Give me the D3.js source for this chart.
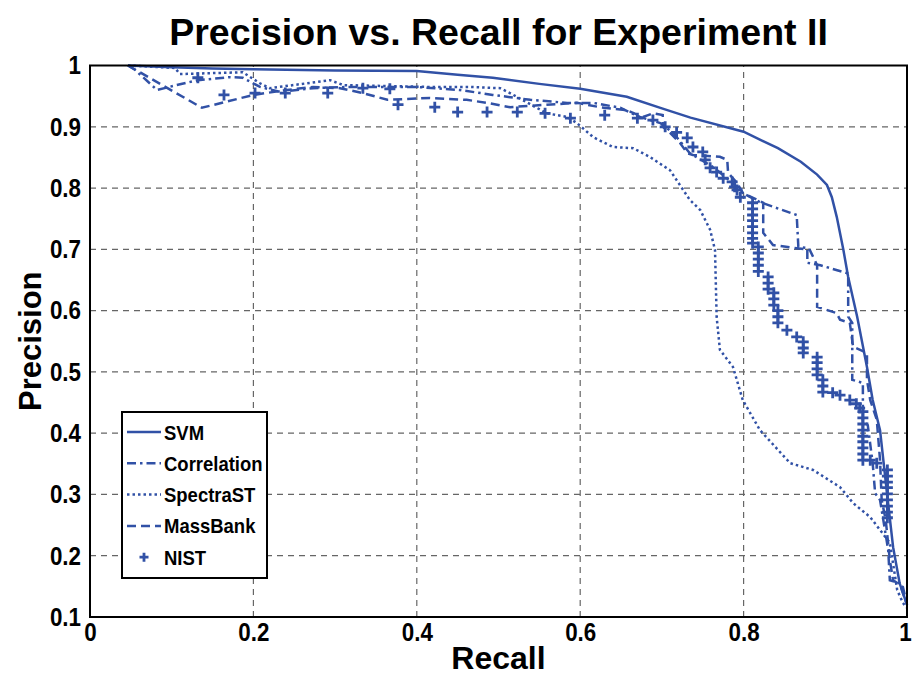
<!DOCTYPE html>
<html>
<head>
<meta charset="utf-8">
<script src="https://cdn.jsdelivr.net/npm/d3@7"></script>
<style>
  body { margin: 0; background: #fff; }
  svg { display: block; }
</style>
</head>
<body>
<div id="chart"></div>
<script>
// [recall, precision] pairs
const svmCurve = [
  [0.0465, 1], [0.1, 0.997], [0.15, 0.995], [0.2, 0.994], [0.3, 0.992], [0.4, 0.991],
  [0.45, 0.985], [0.493, 0.98], [0.55, 0.97], [0.6, 0.962], [0.657, 0.949], [0.7, 0.93],
  [0.735, 0.915], [0.8, 0.892], [0.842, 0.865], [0.87, 0.843], [0.89, 0.822], [0.902, 0.805],
  [0.908, 0.785], [0.914, 0.753], [0.922, 0.70], [0.928, 0.655], [0.939, 0.59], [0.951, 0.508],
  [0.958, 0.454], [0.967, 0.405], [0.976, 0.296], [0.983, 0.214], [0.991, 0.155], [1, 0.12]
];

const correlationCurve = [
  [0.0465, 1], [0.055, 0.993], [0.082, 0.96], [0.106, 0.968], [0.132, 0.976], [0.171, 0.981],
  [0.187, 0.98], [0.208, 0.965], [0.233, 0.957], [0.273, 0.963], [0.315, 0.965], [0.4, 0.965],
  [0.453, 0.96], [0.493, 0.952], [0.539, 0.944], [0.584, 0.939], [0.616, 0.939], [0.649, 0.931],
  [0.673, 0.916], [0.698, 0.906], [0.714, 0.89], [0.734, 0.857], [0.763, 0.834], [0.787, 0.808],
  [0.799, 0.792], [0.82, 0.777], [0.865, 0.756], [0.867, 0.704], [0.878, 0.702], [0.878, 0.678],
  [0.894, 0.674], [0.927, 0.661], [0.928, 0.655], [0.928, 0.59], [0.933, 0.58], [0.933, 0.487],
  [0.946, 0.482], [0.946, 0.422], [0.952, 0.413], [0.958, 0.351], [0.961, 0.302], [0.967, 0.291],
  [0.973, 0.242], [0.977, 0.209], [0.979, 0.16], [0.991, 0.155], [1, 0.12]
];

const spectraCurve = [
  [0.0465, 1], [0.104, 0.996], [0.11, 0.986], [0.187, 0.989], [0.208, 0.971], [0.22, 0.963],
  [0.294, 0.976], [0.31, 0.968], [0.416, 0.965], [0.465, 0.965], [0.502, 0.963], [0.514, 0.955],
  [0.559, 0.922], [0.584, 0.916], [0.596, 0.906], [0.616, 0.883], [0.64, 0.867], [0.665, 0.865],
  [0.685, 0.851], [0.71, 0.829], [0.734, 0.781], [0.747, 0.764], [0.759, 0.732], [0.765, 0.699],
  [0.767, 0.59], [0.771, 0.536], [0.787, 0.508], [0.799, 0.454], [0.82, 0.405], [0.857, 0.351],
  [0.885, 0.34], [0.918, 0.312], [0.934, 0.286], [0.955, 0.263], [0.967, 0.242], [0.979, 0.221],
  [0.988, 0.144], [0.995, 0.123], [1, 0.115]
];

const massbankCurve = [
  [0.0465, 1], [0.137, 0.931], [0.2, 0.952], [0.241, 0.96], [0.273, 0.965], [0.306, 0.963],
  [0.334, 0.955], [0.364, 0.944], [0.416, 0.947], [0.461, 0.944], [0.486, 0.939], [0.514, 0.932],
  [0.559, 0.936], [0.596, 0.939], [0.624, 0.932], [0.657, 0.927], [0.677, 0.916], [0.689, 0.922],
  [0.701, 0.919], [0.701, 0.9], [0.71, 0.89], [0.722, 0.874], [0.731, 0.857], [0.738, 0.854],
  [0.771, 0.851], [0.78, 0.846], [0.781, 0.825], [0.792, 0.808], [0.799, 0.792], [0.824, 0.776],
  [0.824, 0.727], [0.836, 0.707], [0.881, 0.699], [0.89, 0.674], [0.89, 0.606], [0.914, 0.596],
  [0.918, 0.585], [0.93, 0.58], [0.934, 0.541], [0.951, 0.531], [0.951, 0.487], [0.955, 0.454],
  [0.963, 0.422], [0.967, 0.356], [0.969, 0.291], [0.974, 0.258], [0.979, 0.193], [0.983, 0.16],
  [0.995, 0.149], [1, 0.12]
];

const nistPoints = [
  [0.132, 0.98], [0.164, 0.952], [0.202, 0.955], [0.239, 0.955], [0.291, 0.955], [0.334, 0.963],
  [0.367, 0.962], [0.377, 0.936], [0.422, 0.932], [0.45, 0.924], [0.486, 0.924], [0.523, 0.924],
  [0.557, 0.922], [0.588, 0.914], [0.63, 0.919], [0.67, 0.914], [0.689, 0.911], [0.704, 0.9],
  [0.718, 0.891], [0.731, 0.882], [0.738, 0.867], [0.75, 0.859], [0.753, 0.846], [0.759, 0.833],
  [0.767, 0.826], [0.775, 0.816], [0.786, 0.81], [0.789, 0.802], [0.792, 0.797], [0.796, 0.785],
  [0.811, 0.776], [0.811, 0.766], [0.811, 0.756], [0.811, 0.747], [0.811, 0.737], [0.811, 0.727],
  [0.811, 0.718], [0.811, 0.71],
  [0.818, 0.704], [0.818, 0.694], [0.818, 0.684], [0.818, 0.674], [0.818, 0.664],
  [0.83, 0.655], [0.83, 0.645], [0.83, 0.635],
  [0.837, 0.629], [0.837, 0.619], [0.837, 0.609],
  [0.842, 0.6], [0.842, 0.59], [0.842, 0.58],
  [0.853, 0.568], [0.865, 0.557], [0.873, 0.549], [0.873, 0.539], [0.873, 0.531],
  [0.89, 0.524], [0.89, 0.515], [0.89, 0.505], [0.89, 0.495],
  [0.897, 0.487], [0.897, 0.477], [0.897, 0.467],
  [0.909, 0.466], [0.918, 0.462], [0.93, 0.454], [0.938, 0.448], [0.942, 0.441],
  [0.946, 0.435], [0.946, 0.425], [0.946, 0.415], [0.946, 0.405], [0.946, 0.395], [0.946, 0.386],
  [0.946, 0.376], [0.946, 0.366], [0.946, 0.356],
  [0.955, 0.356], [0.963, 0.351],
  [0.976, 0.34], [0.976, 0.33], [0.976, 0.32], [0.976, 0.311], [0.976, 0.301], [0.976, 0.291],
  [0.976, 0.281], [0.976, 0.271], [0.976, 0.262]
];

const recallTicks = [0, 0.2, 0.4, 0.6, 0.8, 1];
const precisionTicks = [0.1, 0.2, 0.3, 0.4, 0.5, 0.6, 0.7, 0.8, 0.9, 1];

const series = [
  { name: "SVM", data: svmCurve, dash: null },
  { name: "Correlation", data: correlationCurve, dash: "9,4,2.5,4" },
  { name: "SpectraST", data: spectraCurve, dash: "2.5,3" },
  { name: "MassBank", data: massbankCurve, dash: "9,5" },
  { name: "NIST", data: nistPoints, marker: true }
];

const width = 914, height = 677;
const margin = { top: 65.5, right: 7, bottom: 60, left: 90 };
const blue = "#3151a6";
const sans = "'Liberation Sans', Arial, Helvetica, sans-serif";

const x = d3.scaleLinear().domain([0, 1]).range([margin.left, width - margin.right]);
const y = d3.scaleLinear().domain([0.1, 1]).range([height - margin.bottom, margin.top]);

const svg = d3.select("#chart").append("svg")
    .attr("width", width)
    .attr("height", height);

// squeeze text horizontally to mimic a narrow bold face
function squeeze(sel, k) {
  sel.each(function() {
    const w = this.getComputedTextLength();
    d3.select(this)
        .attr("textLength", w * k)
        .attr("lengthAdjust", "spacingAndGlyphs");
  });
}

// grid
const grid = svg.append("g")
    .attr("stroke", "#666")
    .attr("stroke-width", 1.2)
    .attr("stroke-dasharray", "6,5");
grid.selectAll("line.vx")
  .data(recallTicks.filter(d => d > 0 && d < 1))
  .join("line")
    .attr("x1", d => x(d)).attr("x2", d => x(d))
    .attr("y1", y(0.1)).attr("y2", y(1));
grid.selectAll("line.hy")
  .data(precisionTicks.filter(d => d > 0.1 && d < 1))
  .join("line")
    .attr("x1", x(0)).attr("x2", x(1))
    .attr("y1", d => y(d)).attr("y2", d => y(d));

// curves
const line = d3.line().x(d => x(d[0])).y(d => y(d[1]));
const plot = svg.append("g");
series.filter(s => !s.marker).forEach(s => {
  plot.append("path")
      .datum(s.data)
      .attr("fill", "none")
      .attr("stroke", blue)
      .attr("stroke-width", 2.5)
      .attr("stroke-dasharray", s.dash)
      .attr("d", line);
});

function drawPlus(g, cx, cy, r) {
  g.append("path")
      .attr("d", `M${cx - r},${cy}H${cx + r}M${cx},${cy - r}V${cy + r}`)
      .attr("stroke", blue)
      .attr("stroke-width", 2.8)
      .attr("fill", "none");
}
nistPoints.forEach(d => drawPlus(plot, x(d[0]), y(d[1]), 5.5));

// axes box
svg.append("rect")
    .attr("x", x(0)).attr("y", y(1))
    .attr("width", x(1) - x(0)).attr("height", y(0.1) - y(1))
    .attr("fill", "none")
    .attr("stroke", "#000")
    .attr("stroke-width", 2);

const xAxis = d3.axisBottom(x).tickValues(recallTicks).tickSize(0).tickPadding(6)
    .tickFormat(d3.format("~g"));
const yAxis = d3.axisLeft(y).tickValues(precisionTicks).tickSize(0).tickPadding(9)
    .tickFormat(d3.format("~g"));

const gx = svg.append("g").attr("transform", `translate(0,${y(0.1)})`).call(xAxis);
const gy = svg.append("g").attr("transform", `translate(${x(0)},0)`).call(yAxis);
[gx, gy].forEach(g => {
  g.select(".domain").remove();
  g.selectAll("text")
      .attr("font-family", sans)
      .attr("font-weight", "bold")
      .attr("font-size", 26)
      .attr("fill", "#000")
      .call(squeeze, 0.86);
});
// keep the last recall label inside the page, as in the reference
gx.selectAll(".tick").filter(d => d === 1).select("text").attr("dx", -2);

// titles
svg.append("text")
    .attr("x", (x(0) + x(1)) / 2)
    .attr("y", 45)
    .attr("text-anchor", "middle")
    .attr("font-family", sans)
    .attr("font-weight", "bold")
    .attr("font-size", 37.5)
    .text("Precision vs. Recall for Experiment II");

svg.append("text")
    .attr("x", (x(0) + x(1)) / 2)
    .attr("y", 669)
    .attr("text-anchor", "middle")
    .attr("font-family", sans)
    .attr("font-weight", "bold")
    .attr("font-size", 32)
    .text("Recall");

svg.append("text")
    .attr("transform", `translate(41,${(y(0.1) + y(1)) / 2}) rotate(-90)`)
    .attr("text-anchor", "middle")
    .attr("font-family", sans)
    .attr("font-weight", "bold")
    .attr("font-size", 31)
    .text("Precision");

// legend
const legend = svg.append("g").attr("transform", "translate(122,412)");
legend.append("rect")
    .attr("width", 145).attr("height", 166)
    .attr("fill", "#fff")
    .attr("stroke", "#000")
    .attr("stroke-width", 2);
series.forEach((s, i) => {
  const ly = 20 + i * 31.3;
  if (s.marker) {
    drawPlus(legend, 22, ly, 4.5);
  } else {
    legend.append("line")
        .attr("x1", 5).attr("x2", 39)
        .attr("y1", ly).attr("y2", ly)
        .attr("stroke", blue)
        .attr("stroke-width", 2.5)
        .attr("stroke-dasharray", s.dash);
  }
  legend.append("text")
      .attr("x", 42)
      .attr("y", ly)
      .attr("dy", "0.36em")
      .attr("font-family", sans)
      .attr("font-weight", "bold")
      .attr("font-size", 21)
      .text(s.name)
      .call(squeeze, 0.88);
});
</script>
</body>
</html>
